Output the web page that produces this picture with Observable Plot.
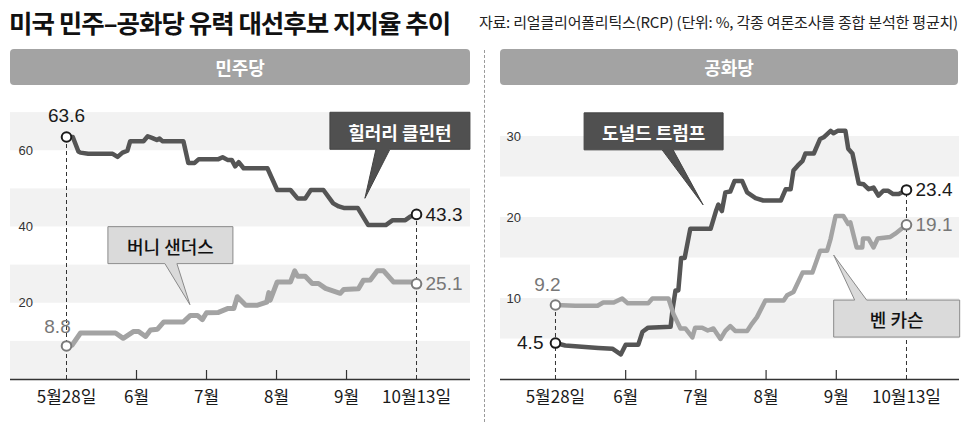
<!DOCTYPE html>
<html><head><meta charset="utf-8">
<script src="https://cdn.jsdelivr.net/npm/d3@7"></script>
<script src="https://cdn.jsdelivr.net/npm/@observablehq/plot@0.6"></script>
<style>
body{margin:0;width:970px;height:427px;position:relative;background:#fff;overflow:hidden;font-family:"Noto Sans CJK KR","Noto Sans",sans-serif;}
.title{position:absolute;left:9px;top:3px;font-size:25.5px;font-weight:700;letter-spacing:-1px;color:#111;white-space:nowrap;}
.source{position:absolute;right:12px;top:11px;font-size:15px;letter-spacing:-0.2px;color:#222;white-space:nowrap;}
.hdr{position:absolute;top:49px;height:36px;background:#a3a3a3;border-radius:4px;color:#fff;font-weight:700;font-size:18px;display:flex;align-items:center;justify-content:center;}
.sep{position:absolute;left:484px;top:50px;height:372px;border-left:1px dashed #9a9a9a;}
.panel{position:absolute;top:90px;}
</style></head>
<body>
<div class="title">미국 민주–공화당 유력 대선후보 지지율 추이</div>
<div class="source">자료: 리얼클리어폴리틱스(RCP) (단위: %, 각종 여론조사를 종합 분석한 평균치)</div>
<div class="hdr" style="left:10px;width:460px">민주당</div>
<div class="hdr" style="left:500px;width:458px">공화당</div>
<div class="sep"></div>
<div id="left" class="panel" style="left:0px"></div>
<div id="right" class="panel" style="left:490px"></div>
<script>
// x positions are in axis-label units: 0 = 5월28일, 1..4 = 6월..9월, 5 = 10월13일
const xLabels = ["5월28일", "6월", "7월", "8월", "9월", "10월13일"];
const monthTicks = [1, 2, 3, 4];

const demBands = [[0, 10], [20, 30], [40, 50], [60, 70]];
const demTicks = [20, 40, 60];
const repBands = [[5, 10], [15, 20], [25, 30]];
const repTicks = [10, 20, 30];

const clinton = [[0,63.6],[0.09,63.6],[0.17,59.8],[0.2,59.5],[0.31,59.2],[0.66,59.2],[0.73,58.4],[0.8,59.5],[0.87,60],[0.91,62.5],[1.1,62.5],[1.16,63.8],[1.23,63.3],[1.29,62.8],[1.33,63.2],[1.37,62.5],[1.67,62.5],[1.74,56.8],[1.83,56.8],[1.89,57.8],[2.17,57.8],[2.23,58.3],[2.3,57.6],[2.36,57.6],[2.41,55.9],[2.46,57],[2.53,55.4],[2.87,55.4],[3.01,49.7],[3.2,49.7],[3.3,47.5],[3.41,47.5],[3.49,49.7],[3.67,49.7],[3.81,46.2],[3.89,45.4],[3.96,45],[4.16,45],[4.31,40.5],[4.56,40.5],[4.66,41.8],[4.84,41.8],[4.91,42.7],[5,43.3]];
const sanders = [[0,8.8],[0.08,9],[0.2,12.2],[0.7,12.2],[0.81,10.8],[0.96,12.6],[1.03,12.6],[1.13,11.3],[1.2,13],[1.3,13.2],[1.39,15.1],[1.67,15.1],[1.77,16.8],[1.87,16.8],[1.94,15.7],[2,17.5],[2.17,17.6],[2.3,18.6],[2.39,18.6],[2.44,21.7],[2.56,19.5],[2.73,19.5],[2.86,20.3],[2.89,22.8],[2.91,20.8],[3.01,25.6],[3.2,25.6],[3.26,28.5],[3.3,27.1],[3.41,27.1],[3.51,25.2],[3.6,25.2],[3.7,23.9],[3.91,22.6],[3.96,23.6],[4.17,23.8],[4.24,26],[4.34,26.1],[4.44,28.5],[4.53,28.5],[4.67,25.6],[4.94,25.6],[5,25.1]];
const trump = [[0,4.5],[0.14,4.2],[0.61,3.9],[0.81,3.8],[0.93,3.1],[1,4.3],[1.18,4.3],[1.24,5.9],[1.32,6.4],[1.64,6.5],[1.67,8.8],[1.71,11],[1.75,11],[1.79,15],[1.84,15],[1.92,18.6],[2.21,18.6],[2.29,20.9],[2.32,21.6],[2.37,20.8],[2.42,23.1],[2.49,23.2],[2.55,24.5],[2.66,24.5],[2.73,23.1],[2.85,22.4],[2.96,22.1],[3.21,22.1],[3.28,23.5],[3.35,23.5],[3.39,25.8],[3.45,26.4],[3.52,27],[3.56,27.9],[3.68,27.9],[3.77,29.7],[3.82,29.9],[3.92,30.7],[3.96,30.4],[4.02,30.7],[4.13,30.7],[4.17,28.5],[4.23,27.9],[4.32,24.2],[4.39,24.1],[4.46,23.5],[4.53,23.7],[4.6,22.7],[4.67,23.3],[4.74,23.3],[4.81,22.9],[4.89,22.9],[5,23.4]];
const carson = [[0,9.2],[0.28,9.1],[0.6,9.1],[0.68,9.5],[0.83,9.5],[0.95,10],[1.03,9.4],[1.32,9.4],[1.38,10],[1.61,10],[1.68,8.1],[1.78,6.3],[1.85,6.3],[1.95,5.2],[1.99,6.4],[2.09,6.4],[2.17,6.05],[2.25,6.3],[2.35,5],[2.42,6],[2.49,6.6],[2.56,6],[2.73,6],[2.8,6.9],[2.87,7.7],[2.99,9.75],[3.25,9.75],[3.3,10.4],[3.39,10.8],[3.52,13.2],[3.66,13.2],[3.77,15.9],[3.87,15.9],[3.92,17.4],[3.99,20.2],[4.1,20.2],[4.17,19.2],[4.2,19.4],[4.29,16.3],[4.37,16.3],[4.38,17.4],[4.46,17.4],[4.53,16.3],[4.59,17.4],[4.77,17.6],[4.84,18],[5,19.1]];

const names = {clinton: "힐러리 클린턴", sanders: "버니 샌더스", trump: "도널드 트럼프", carson: "벤 카슨"};
// callout tips in data units (where the pointer touches)
const tipClinton = [4.27, 47.4];
const tipSanders = [1.77, 19.5];
const tipTrump = [2.11, 21.5];
const tipCarson = [3.97, 15.3];

const DARK = "#555555", LIGHT = "#a3a3a3";
const NUMFONT = "'Liberation Sans', Arial, sans-serif";
const KFONT = "'Noto Sans CJK KR', sans-serif";

function callout(tip, label, o) {
  return (index, scales) => {
    const sx = typeof scales.x === "function" ? scales.x : (v) => scales.x.apply(v);
    const sy = typeof scales.y === "function" ? scales.y : (v) => scales.y.apply(v);
    const tx = sx(tip[0]), ty = sy(tip[1]);
    const x0 = tx + o.dx, y0 = ty + o.dy, x1 = x0 + o.w, y1 = y0 + o.h;
    const b1 = tx + o.b1, b2 = tx + o.b2;
    const d = o.side === "bottom"
      ? `M${x0},${y0}H${x1}V${y1}H${b2}L${tx},${ty}L${b1},${y1}H${x0}Z`
      : `M${x0},${y0}H${b1}L${tx},${ty}L${b2},${y0}H${x1}V${y1}H${x0}Z`;
    const g = d3.create("svg:g");
    g.append("path").attr("d", d)
      .attr("fill", o.dark ? "#505050" : "#dadada")
      .attr("stroke", o.dark ? "#444" : "#8a8a8a").attr("stroke-width", 1);
    g.append("text").attr("x", (x0 + x1) / 2).attr("y", (y0 + y1) / 2)
      .attr("text-anchor", "middle").attr("dominant-baseline", "central")
      .attr("dy", "0.05em")
      .attr("font-family", KFONT).attr("font-size", 18)
      .attr("font-weight", o.dark ? 700 : 500)
      .attr("fill", o.dark ? "#fff" : "#111")
      .text(label);
    return g.node();
  };
}

function panel(cfg) {
  const H = 337, mt = 0, mb = 48, plotH = H - mt - mb;
  const [a, b] = cfg.lines;
  const first = [a.data[0], b.data[0]];
  const last = [a.data[a.data.length - 1], b.data[b.data.length - 1]];
  const dashes = [
    {t: 0, top: d3.max(first, (d) => d[1])},
    {t: 5, top: d3.max(last, (d) => d[1])}
  ];
  const marks = [
    Plot.rect(cfg.bands, {x1: () => cfg.xDomain[0], x2: () => cfg.xDomain[1], y1: (d) => d[0], y2: (d) => d[1], fill: "#f2f2f2"}),
    Plot.text(cfg.yTicks, {y: (d) => d, frameAnchor: "left", textAnchor: "start", dx: cfg.yLabelDx, text: (d) => String(d), fontSize: 13, fontFamily: NUMFONT, fill: "#333"}),
    Plot.tickX(monthTicks, {x: (d) => d, insetTop: plotH - 9, stroke: "#333", strokeWidth: 1.2}),
    Plot.ruleX(dashes, {x: "t", y1: 0, y2: "top", stroke: "#333", strokeWidth: 1, strokeDasharray: "4,3"}),
    Plot.ruleY([0], {stroke: "#333", strokeWidth: 1.5}),
    Plot.text(xLabels.map((_, i) => i), {x: (d) => d, frameAnchor: "bottom", dy: 23, text: (d) => xLabels[d], fontSize: 17, fontFamily: KFONT, fill: "#1a1a1a", letterSpacing: "-0.7px"})
  ];
  for (const s of cfg.lines) {
    marks.push(Plot.line(s.data, {x: (d) => d[0], y: (d) => d[1], stroke: s.color, strokeWidth: s.width, strokeLinejoin: "round", strokeLinecap: "round"}));
  }
  for (const s of cfg.lines) {
    const ends = [s.data[0], s.data[s.data.length - 1]];
    marks.push(Plot.dot(ends, {x: (d) => d[0], y: (d) => d[1], r: 4.8, fill: "white", stroke: s.dot, strokeWidth: 2}));
  }
  for (const s of cfg.lines) {
    const f = s.data[0], l = s.data[s.data.length - 1];
    marks.push(Plot.text([f], {x: (d) => d[0], y: (d) => d[1], text: (d) => d[1].toFixed(1), fontSize: 19, fontFamily: NUMFONT, fill: s.label, ...s.startLabel}));
    marks.push(Plot.text([l], {x: (d) => d[0], y: (d) => d[1], text: (d) => d[1].toFixed(1), fontSize: 19, fontFamily: NUMFONT, fill: s.label, textAnchor: "start", dx: 9, letterSpacing: "0.6px"}));
  }
  marks.push(...cfg.callouts);
  return Plot.plot({
    width: 480, height: H, marginLeft: 10, marginRight: cfg.marginRight, marginTop: mt, marginBottom: mb,
    x: {domain: cfg.xDomain, axis: null},
    y: {domain: cfg.yDomain, axis: null},
    style: {background: "transparent", overflow: "visible"},
    marks
  });
}

document.getElementById("left").append(panel({
  xDomain: [-0.8, 5.771], yDomain: [0, 75.8], marginRight: 10,
  bands: demBands, yTicks: demTicks, yLabelDx: 8,
  lines: [
    {data: clinton, color: DARK, width: 4.5, dot: "#1a1a1a", label: "#1a1a1a", startLabel: {dy: -21, textAnchor: "middle"}},
    {data: sanders, color: LIGHT, width: 5, dot: "#7a7a7a", label: "#777", startLabel: {dy: -19, dx: -9, textAnchor: "middle"}}
  ],
  callouts: [
    callout(tipClinton, names.clinton, {dx: -35, dy: -86, w: 140, h: 37, b1: 11, b2: 25, side: "bottom", dark: true}),
    callout(tipSanders, names.sanders, {dx: -82, dy: -78, w: 125, h: 37, b1: -25, b2: -13, side: "bottom", dark: false})
  ]
}));

document.getElementById("right").append(panel({
  xDomain: [-0.783, 5.755], yDomain: [0, 35.68], marginRight: 11,
  bands: repBands, yTicks: repTicks, yLabelDx: 6,
  lines: [
    {data: trump, color: DARK, width: 4.5, dot: "#1a1a1a", label: "#1a1a1a", startLabel: {dx: -12, textAnchor: "end"}},
    {data: carson, color: LIGHT, width: 4.5, dot: "#7a7a7a", label: "#777", startLabel: {dy: -20, dx: -8, textAnchor: "middle"}}
  ],
  callouts: [
    callout(tipTrump, names.trump, {dx: -119, dy: -92, w: 139, h: 37, b1: -41, b2: -30, side: "bottom", dark: true}),
    callout(tipCarson, names.carson, {dx: 0, dy: 45, w: 126, h: 37, b1: 21, b2: 33, side: "top", dark: false})
  ]
}));
</script>
</body></html>
